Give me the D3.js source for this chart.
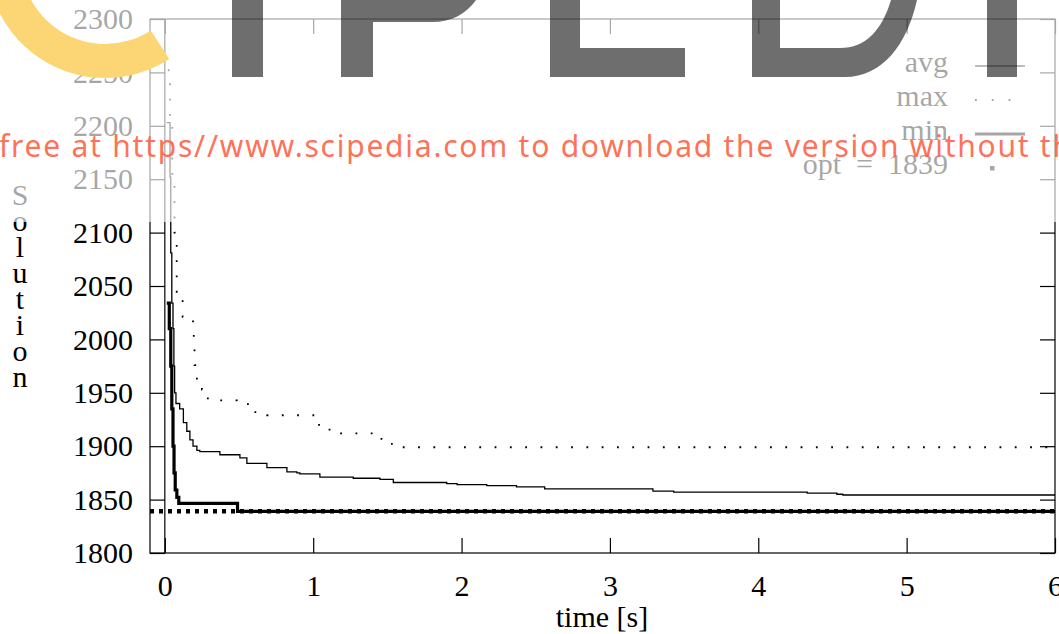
<!doctype html>
<html>
<head>
<meta charset="utf-8">
<style>
    body { margin: 0; background: #fff; }
    svg { display: block; }
    .tick text, .lbl { font-family: "Liberation Serif", "DejaVu Serif", serif; font-size: 30px; fill: #000; }
    .tick line { stroke: #000; stroke-width: 1.2; }
</style>
<script src="https://d3js.org/d3.v7.min.js"></script>
</head>
<body>
<svg width="1059" height="634"></svg>
<script>

    // time [s] / solution value
    var avgTime = [0.013, 0.035, 0.040, 0.047, 0.055, 0.061, 0.066, 0.075, 0.10, 0.125, 0.148, 0.169, 0.19, 0.216,
                   0.236, 0.371, 0.506, 0.553, 0.688, 0.823, 0.89, 0.91, 1.045, 1.27, 1.45, 1.54, 1.90, 1.97,
                   2.17, 2.37, 2.56, 3.29, 3.43, 4.33, 4.53, 4.57, 6.0];
    var avgValue = [2203, 2152, 2081, 2034, 2010, 1975, 1950, 1940, 1935, 1922, 1914, 1906, 1900, 1896,
                    1895, 1892, 1889, 1884, 1880, 1876, 1875, 1874, 1871, 1870, 1869, 1866, 1865, 1864,
                    1863, 1862, 1860, 1858, 1857, 1856, 1855, 1854.3, 1854.3];

    var maxTime = [0.020, 0.035, 0.050, 0.065, 0.080, 0.12, 0.19, 0.195, 0.20, 0.216, 0.25, 0.29, 0.485,
                   0.56, 0.61, 0.69, 1.03, 1.11, 1.46, 1.53, 6.0];
    var maxValue = [2252, 2200, 2150, 2100, 2040, 2021, 2009, 1995, 1976, 1962, 1953, 1943, 1941,
                    1937, 1931, 1929, 1920, 1912, 1905, 1899, 1899];

    var minTime = [0.013, 0.03, 0.04, 0.047, 0.055, 0.062, 0.07, 0.081, 0.094, 0.49, 6.0];
    var minValue = [2034, 2010, 1975, 1935, 1900, 1875, 1859, 1852, 1846.5, 1839, 1839];

    var optValue = 1839;

    var xTicks = [0, 1, 2, 3, 4, 5, 6];
    var yTicks = [1800, 1850, 1900, 1950, 2000, 2050, 2100, 2150, 2200, 2250, 2300];

    var svg = d3.select("svg");

    var x = d3.scaleLinear().domain([-0.1, 6]).range([150, 1055]);
    var y = d3.scaleLinear().domain([1800, 2300]).range([553, 19]);

    function zip(ts, vs) { return ts.map(function(t, i) { return [t, vs[i]]; }); }

    svg.append("clipPath").attr("id", "plot")
       .append("rect").attr("x", 150).attr("y", 19).attr("width", 905).attr("height", 534);

    // axes with inward ticks
    var bottom = svg.append("g").attr("transform", "translate(0,553)")
        .call(d3.axisBottom(x).tickValues(xTicks).tickSizeInner(-15).tickSizeOuter(0).tickFormat(d3.format("d")));
    bottom.selectAll("text").attr("y", 43).attr("dy", 0);
    svg.append("g").attr("transform", "translate(0,19)")
        .call(d3.axisTop(x).tickValues(xTicks).tickSizeInner(-15).tickSizeOuter(0).tickFormat(""));
    var left = svg.append("g").attr("transform", "translate(150,0)")
        .call(d3.axisLeft(y).tickValues(yTicks).tickSizeInner(-15).tickSizeOuter(0).tickPadding(17)
              .tickFormat(d3.format("d")));
    left.selectAll("text").attr("dy", "0.32em");
    svg.append("g").attr("transform", "translate(1055,0)")
        .call(d3.axisRight(y).tickValues(yTicks).tickSizeInner(-15).tickSizeOuter(0).tickFormat(""));
    svg.selectAll(".domain").remove();

    svg.append("rect").attr("x", 150).attr("y", 19).attr("width", 905).attr("height", 534)
       .attr("fill", "none").attr("stroke", "#000").attr("stroke-width", 1.2);

    // t = 0 line
    svg.append("line").attr("x1", x(0)).attr("x2", x(0)).attr("y1", y(1800)).attr("y2", y(2300))
       .attr("stroke", "#000").attr("stroke-width", 1.2);

    svg.append("text").attr("class", "lbl").attr("x", 602).attr("y", 627)
       .attr("text-anchor", "middle").text("time [s]");

    var ylab = svg.append("text").attr("class", "lbl").attr("text-anchor", "middle");
    "Solution".split("").forEach(function(c, i) {
        ylab.append("tspan").attr("x", 20).attr("y", 205 + i * 26).text(c);
    });

    var line = d3.line().curve(d3.curveStepAfter)
        .x(function(d) { return x(d[0]); })
        .y(function(d) { return y(d[1]); });

    var plot = svg.append("g").attr("clip-path", "url(#plot)");

    plot.append("path").datum([[-0.1, optValue], [6, optValue]]).attr("d", line)
        .attr("fill", "none").attr("stroke", "#000").attr("stroke-width", 4.5).attr("stroke-dasharray", "4,5");
    plot.append("path").datum(zip(minTime, minValue)).attr("d", line)
        .attr("fill", "none").attr("stroke", "#000").attr("stroke-width", 3.2);
    plot.append("path").datum(zip(avgTime, avgValue)).attr("d", line)
        .attr("fill", "none").attr("stroke", "#000").attr("stroke-width", 1.3);
    plot.append("path").datum(zip(maxTime, maxValue)).attr("d", line)
        .attr("fill", "none").attr("stroke", "#000").attr("stroke-width", 1.8).attr("stroke-dasharray", "1.8,13.5");

    // legend
    var legend = [
        { name: "avg", width: 1.3, dash: null },
        { name: "max", width: 1.8, dash: "1.8,15" },
        { name: "min", width: 3.2, dash: null },
        { name: "opt  =  1839", width: 0, dash: null }
    ];
    var lg = svg.append("g");
    legend.forEach(function(d, i) {
        var by = 72 + i * 34;
        lg.append("text").attr("class", "lbl").attr("x", 948).attr("y", by)
          .attr("text-anchor", "end").attr("xml:space", "preserve").text(d.name);
        if (d.width > 0) {
            lg.append("line").attr("x1", 975).attr("x2", 1025).attr("y1", by - 6).attr("y2", by - 6)
              .attr("stroke", "#000").attr("stroke-width", d.width)
              .attr("stroke-dasharray", d.dash);
        } else {
            lg.append("rect").attr("x", 990).attr("y", by - 8).attr("width", 4.5).attr("height", 4.5).attr("fill", "#000");
        }
    });

    // watermark
    svg.append("rect").attr("x", 0).attr("y", 0).attr("width", 1059).attr("height", 222)
       .attr("fill", "#fff").attr("opacity", 0.65);

    svg.append("path")
       .attr("transform", "translate(105,-40)")
       .attr("d", d3.arc().innerRadius(84).outerRadius(118)
             .startAngle(147 * Math.PI / 180).endAngle(290 * Math.PI / 180)())
       .attr("fill", "#fcd674");

    var wm = svg.append("g").attr("fill", "#000").attr("fill-opacity", 0.57);
    wm.append("path").attr("d", "M232,0H263V77H232Z");
    wm.append("path").attr("d", "M341,0H476C466,14 452,22 432,22H373V77H341Z");
    wm.append("path").attr("d", "M550,0H580V48H685V77H550Z");
    wm.append("path").attr("fill-rule", "evenodd")
      .attr("d", "M752,0H917C907,45 882,77 845,77H752Z M780,0H891C882,30 866,48 840,48H780Z");
    wm.append("path").attr("d", "M987,0H1017V77H987Z");

    svg.append("text").attr("x", -1).attr("y", 157)
       .attr("font-family", "'Noto Sans', 'Open Sans', sans-serif").attr("font-size", 30)
       .attr("fill", "#ff6347").attr("fill-opacity", 0.92)
       .attr("textLength", 1072).attr("lengthAdjust", "spacing")
       .text("free at https//www.scipedia.com to download the version without th");

</script>
</body>
</html>
